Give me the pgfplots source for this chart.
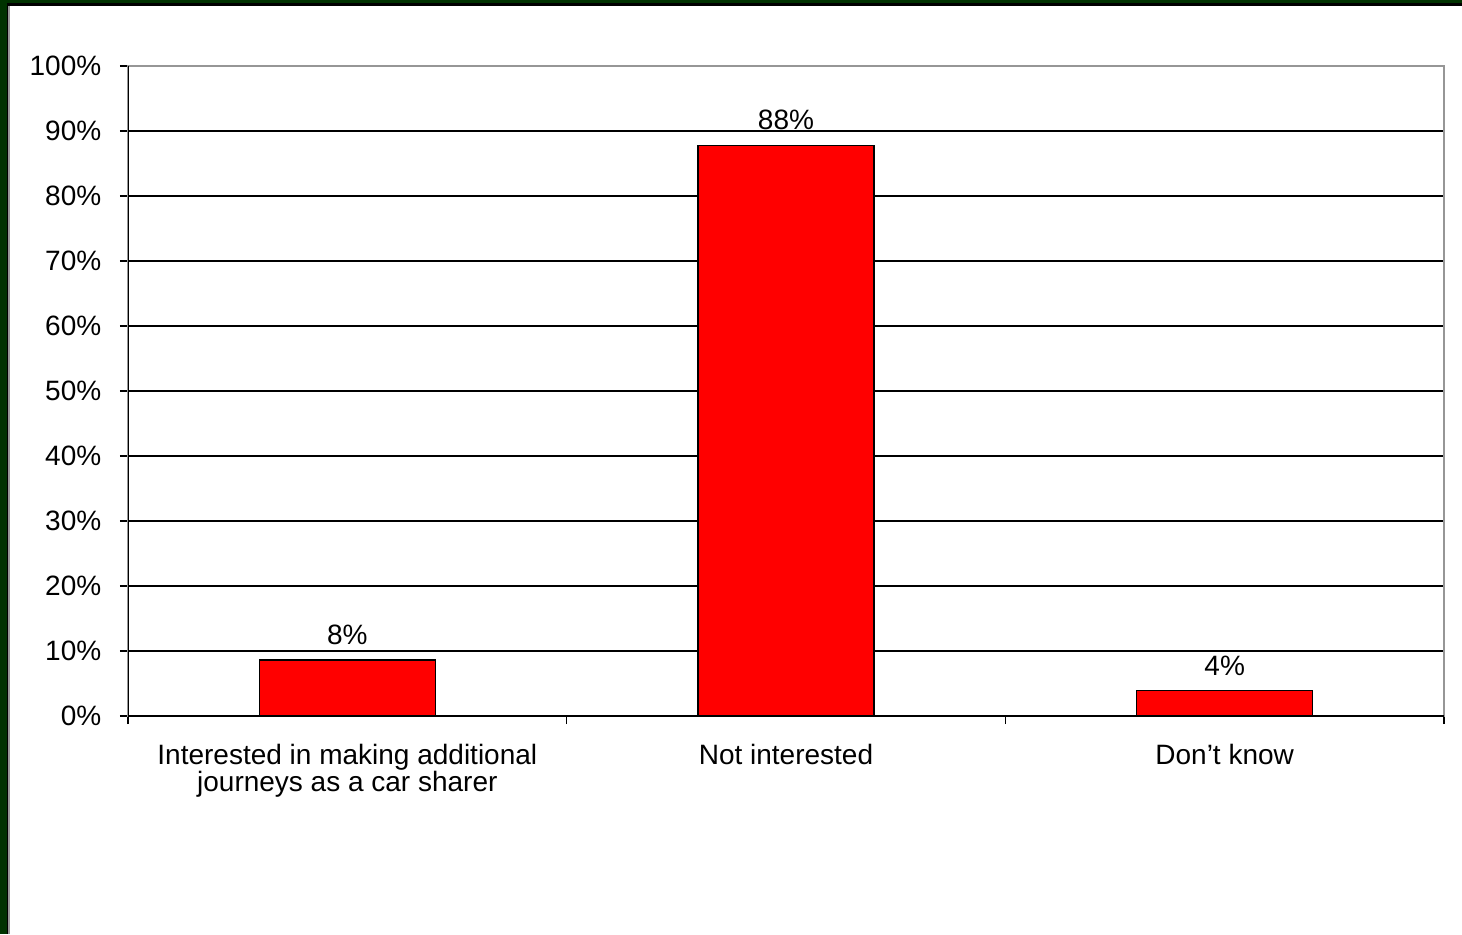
\documentclass[border=0pt]{standalone}
\usepackage{pgfplots}
\pgfplotsset{compat=1.18}
\usepackage{fontspec}
\setmainfont{Liberation Sans}
\definecolor{frameg}{RGB}{0,51,0}
\definecolor{bordergray}{RGB}{150,150,150}
\begin{document}
\fontsize{14}{14}\selectfont
\begin{tikzpicture}
\path[use as bounding box, fill=white] (0,0) rectangle (731pt,467pt);
\fill[frameg] (0,467pt) rectangle (731pt,465.3pt);
\fill[black] (0,465.3pt) rectangle (731pt,464.2pt);
\fill[frameg] (0,0) rectangle (3.3pt,467pt);
\fill[black] (3.3pt,0) rectangle (4.15pt,465.3pt);
\fill[bordergray] (4.15pt,0) rectangle (4.9pt,464.2pt);
\begin{axis}[
  at={(64pt,109pt)}, anchor=south west,
  scale only axis, width=658pt, height=325pt,
  xmin=-0.5, xmax=2.5, ymin=0, ymax=100,
  /pgf/number format/assume math mode=true,
  ytick={0,10,...,100},
  yticklabels={0\%,10\%,20\%,30\%,40\%,50\%,60\%,70\%,80\%,90\%,100\%},
  xtick={-0.5,0.5,1.5,2.5},
  x tick label as interval,
  xticklabels={{Interested in making additional\\journeys as a car sharer},{Not interested},{Don’t know}},
  xtick pos=lower, ytick pos=left,
  tick align=outside,
  major tick length=4pt,
  tick style={black, line width=0.8pt},
  ymajorgrids,
  grid style={black, line width=0.9pt},
  axis line style={bordergray, line width=1pt},
  tick label style={font=\fontsize{14}{13.6}\selectfont},
  xticklabel style={align=center, yshift=-5pt},
  yticklabel style={xshift=-4.5pt},
  ybar, bar width=88pt,
  nodes near coords,
  point meta=explicit symbolic,
  every node near coord/.append style={font=\fontsize{14}{14}\selectfont, black, yshift=2.5pt},
]
\addplot[fill=red, draw=black, line width=0.75pt] coordinates {(0,8.6)[8\%] (1,87.8)[88\%] (2,3.9)[4\%]};
\draw[black, line width=1pt] (rel axis cs:0,0) -- (rel axis cs:1,0);
\draw[black, line width=1pt] (rel axis cs:0,0) -- (rel axis cs:0,1);
\end{axis}
\end{tikzpicture}
\end{document}
